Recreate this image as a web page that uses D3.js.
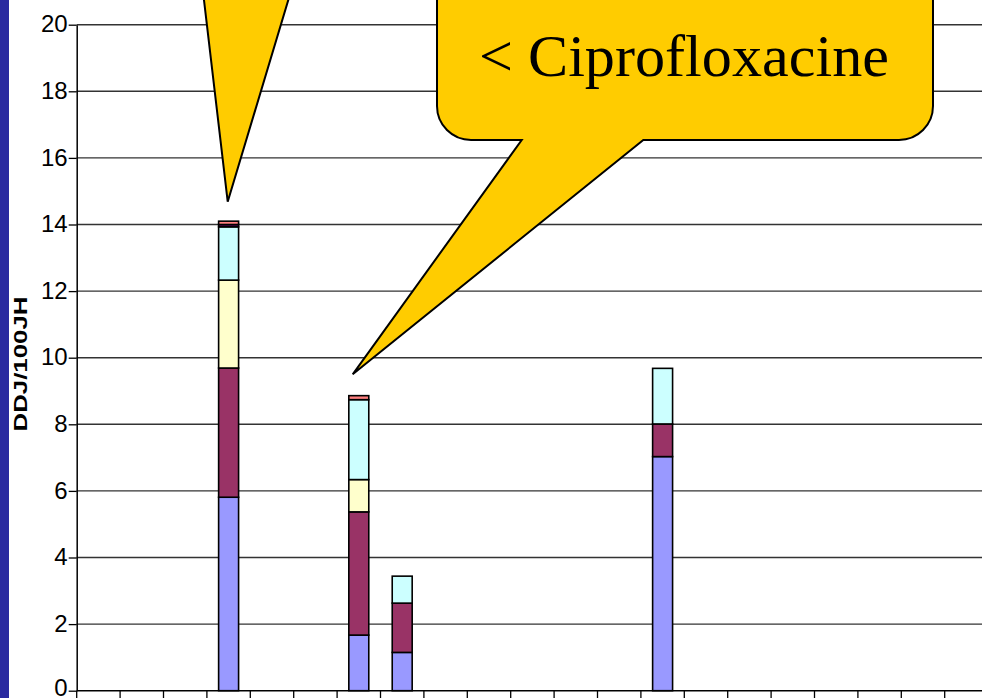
<!DOCTYPE html>
<html>
<head>
<meta charset="utf-8">
<script src="https://cdn.jsdelivr.net/npm/d3@7"></script>
<style>
  html, body { margin: 0; padding: 0; background: #fff; overflow: hidden; }
  svg { display: block; }
</style>
</head>
<body>
<div id="chart"></div>
<script>
// categories (x labels fall below the visible crop)
const categories = d3.range(1, 23).map((i) => "C" + i);
const yTicks = [0, 2, 4, 6, 8, 10, 12, 14, 16, 18, 20];
const seriesKeys = ["s1", "s2", "s3", "s4", "s5", "s6"];
const seriesColors = ["#9999FF", "#993366", "#FFFFCC", "#CCFFFF", "#660066", "#FF8080"];

// stacked values per series, one entry per category
const s1 = [0, 0, 0, 5.81, 0, 0, 1.67, 1.15, 0, 0, 0, 0, 0, 7.03, 0, 0, 0, 0, 0, 0, 0, 0];
const s2 = [0, 0, 0, 3.88, 0, 0, 3.70, 1.48, 0, 0, 0, 0, 0, 0.98, 0, 0, 0, 0, 0, 0, 0, 0];
const s3 = [0, 0, 0, 2.64, 0, 0, 0.97, 0, 0, 0, 0, 0, 0, 0, 0, 0, 0, 0, 0, 0, 0, 0];
const s4 = [0, 0, 0, 1.60, 0, 0, 2.40, 0.81, 0, 0, 0, 0, 0, 1.67, 0, 0, 0, 0, 0, 0, 0, 0];
const s5 = [0, 0, 0, 0.07, 0, 0, 0, 0, 0, 0, 0, 0, 0, 0, 0, 0, 0, 0, 0, 0, 0, 0];
const s6 = [0, 0, 0, 0.10, 0, 0, 0.12, 0, 0, 0, 0, 0, 0, 0, 0, 0, 0, 0, 0, 0, 0, 0];

const yLabel = "DDJ/100JH";
const calloutText = "< Ciprofloxacine";

const width = 982;
const height = 698;

const svg = d3.select("#chart").append("svg")
  .attr("width", width)
  .attr("height", height);

// dark blue strip on the left edge of the slide
svg.append("rect")
  .attr("x", 0).attr("y", 0)
  .attr("width", 9).attr("height", height)
  .attr("fill", "#2A2AA0");

const x0 = 76.7;
const bandW = 43.4;
const x = d3.scaleBand()
  .domain(categories)
  .range([x0, x0 + bandW * categories.length])
  .padding(0);

const y = d3.scaleLinear()
  .domain([0, 20])
  .range([690.7, 24.7]);

// gridlines
svg.append("g")
  .selectAll("line")
  .data(yTicks.filter((d) => d > 0))
  .join("line")
  .attr("x1", x0).attr("x2", width)
  .attr("y1", (d) => y(d)).attr("y2", (d) => y(d))
  .attr("stroke", "#333")
  .attr("stroke-width", 1.4);

// stacked bars
const table = categories.map((c, i) => {
  const row = { cat: c };
  [s1, s2, s3, s4, s5, s6].forEach((s, k) => { row[seriesKeys[k]] = s[i]; });
  return row;
});
const stacked = d3.stack().keys(seriesKeys)(table);
const barW = bandW * 0.46;

svg.append("g")
  .selectAll("g")
  .data(stacked)
  .join("g")
  .attr("fill", (d, i) => seriesColors[i])
  .selectAll("rect")
  .data((d) => d.filter((p) => p[1] - p[0] > 0))
  .join("rect")
  .attr("x", (d) => x(d.data.cat) + (bandW - barW) / 2)
  .attr("y", (d) => y(d[1]))
  .attr("width", barW)
  .attr("height", (d) => y(d[0]) - y(d[1]))
  .attr("stroke", "#000")
  .attr("stroke-width", 1.6);

// y axis
const yAxis = svg.append("g")
  .attr("transform", `translate(${x0},0)`)
  .call(d3.axisLeft(y).tickValues(yTicks).tickSize(8).tickPadding(1).tickSizeOuter(0));
yAxis.select(".domain").attr("stroke", "#000").attr("stroke-width", 1.5);
yAxis.selectAll(".tick line").attr("stroke", "#000").attr("stroke-width", 1.3);
yAxis.selectAll(".tick text")
  .attr("font-family", "Liberation Sans, Arial, sans-serif")
  .attr("font-size", 24)
  .attr("fill", "#000")
  .attr("dy", (d) => (d === 0 ? "0.2em" : "0.3em"));

// x axis (ticks between categories, labels cropped)
const xAxis = svg.append("g")
  .attr("transform", `translate(0,${y(0)})`);
xAxis.append("line")
  .attr("x1", x0).attr("x2", width)
  .attr("stroke", "#000").attr("stroke-width", 1.5);
xAxis.selectAll(".xt")
  .data(categories)
  .join("line")
  .attr("class", "xt")
  .attr("x1", (d) => x(d)).attr("x2", (d) => x(d))
  .attr("y1", 0).attr("y2", 9)
  .attr("stroke", "#000").attr("stroke-width", 1.3);

// y axis title
svg.append("text")
  .attr("transform", "translate(26.5,364) rotate(-90)")
  .attr("text-anchor", "middle")
  .attr("font-family", "Liberation Sans, Arial, sans-serif")
  .attr("font-weight", "bold")
  .attr("font-size", 18)
  .attr("textLength", 135)
  .attr("lengthAdjust", "spacingAndGlyphs")
  .text(yLabel);

// callouts
const callouts = svg.append("g")
  .attr("fill", "#FFCC00")
  .attr("stroke", "#000")
  .attr("stroke-width", 2)
  .attr("stroke-linejoin", "miter");

callouts.append("path")
  .attr("d", "M202.8,-10 L291.3,-10 L227.7,201.7 Z");

callouts.append("path")
  .attr("d", "M437,-40 L933,-40 L933,106 A34,34 0 0 1 899,140 L643.3,140 L352.7,374.3 L521.7,140 L471,140 A34,34 0 0 1 437,106 Z");

svg.append("text")
  .attr("x", 479)
  .attr("y", 76)
  .attr("font-family", "Liberation Serif, Times New Roman, serif")
  .attr("font-size", 60)
  .attr("textLength", 410)
  .attr("lengthAdjust", "spacingAndGlyphs")
  .attr("fill", "#000")
  .text(calloutText);
</script>
</body>
</html>
